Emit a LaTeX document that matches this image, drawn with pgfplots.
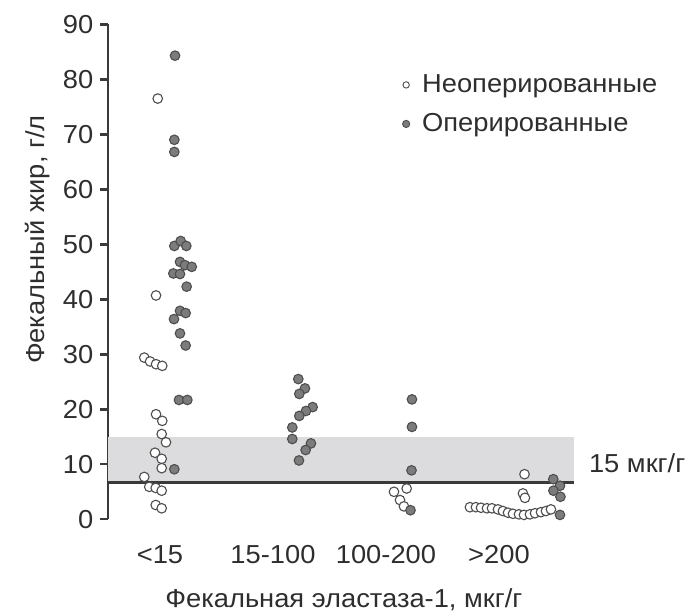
\documentclass[border=0pt]{standalone}
\usepackage{fontspec}
\setmainfont{Liberation Sans}[FakeStretch=1.05]
\usepackage{pgfplots}
\pgfplotsset{compat=1.18}
\definecolor{txt}{HTML}{2E2E2E}
\definecolor{axc}{HTML}{3A3A3A}
\definecolor{band}{HTML}{DCDCDE}
\definecolor{fillg}{HTML}{7C7C7C}
\definecolor{edgeg}{HTML}{4E4E4E}

\begin{document}
\begin{tikzpicture}
\begin{axis}[
    at={(0pt,0pt)}, anchor=south west,
    scale only axis,
    width=232.85pt, height=247.5pt,
    xmin=-0.4575, xmax=3.664,
    ymin=0, ymax=90,
    axis lines*=left,
    x axis line style={draw=none},
    y axis line style={line width=1.2pt, color=axc},
    xtick={0,1,2,3},
    xticklabels={{<15},{15-100},{100-200},{>200}},
    xtick style={draw=none},
    ytick={0,10,...,90},
    ytick style={line width=1.2pt, color=axc},
    tick align=outside,
    major tick length=4pt,
    /pgf/number format/assume math mode=true,
    tick label style={font=\fontsize{13}{15}\selectfont, text=txt},
    xticklabel style={anchor=base, yshift=-18pt},
    label style={font=\fontsize{13}{15}\selectfont, text=txt},
    xlabel={Фекальная эластаза-1, мкг/г},
    ylabel={Фекальный жир, г/л},
    xlabel style={at={(axis description cs:0.506,-0.163)}, anchor=center},
    ylabel style={at={(axis description cs:-0.151,0.565)}, anchor=center},
    clip=false,
    legend style={at={(axis description cs:0.631,0.838)}, anchor=west,
        draw=none, fill=none, inner sep=0pt, row sep=5pt,
        font=\fontsize{13}{15}\selectfont, text=txt},
    legend cell align=left,
    legend image code/.code={\draw[#1] plot coordinates {(0pt,0pt)};\path[draw=none,fill=none] (-1pt,0pt) rectangle (6pt,0.1pt);},
]
% normal range band and threshold line
\fill[band] (axis cs:-0.4575,6.7) rectangle (axis cs:3.664,15);
\draw[line width=1.4pt, axc] (axis cs:-0.4575,6.7) -- (axis cs:3.664,6.7);

\addlegendimage{only marks, mark=*, mark size=1.6pt, mark options={fill=white, draw=edgeg, line width=0.45pt}}
\addlegendentry{Неоперированные}
\addlegendimage{only marks, mark=*, mark size=1.8pt, mark options={fill=fillg, draw=edgeg, line width=0.45pt}}
\addlegendentry{Оперированные}

% non-operated
\addplot[only marks, mark=*, mark size=2.4pt, mark options={fill=white, draw=edgeg, line width=0.55pt}, forget plot] coordinates {
(-0.020,76.5) (-0.035,40.7) (-0.139,29.4) (-0.088,28.7) (-0.035,28.2) (0.020,27.9)
(-0.035,19.1) (0.020,17.9) (0.015,15.5) (0.053,14.0) (-0.044,12.1) (0.015,11.0)
(0.015,9.3) (-0.139,7.7) (-0.095,5.9) (-0.038,5.7) (0.015,5.2) (-0.038,2.6) (0.015,2.0)
(2.183,5.6) (2.071,5.0) (2.124,3.5) (2.159,2.35)
(3.226,8.2) (3.212,4.7) (3.230,3.9)
(2.743,2.2) (2.796,2.2) (2.841,2.1) (2.894,2.0) (2.938,2.0) (2.991,1.8) (3.035,1.5)
(3.080,1.2) (3.124,1.0) (3.177,0.9) (3.221,0.8) (3.274,0.9) (3.319,1.1) (3.372,1.3)
(3.416,1.5) (3.460,1.8)
};
% operated
\addplot[only marks, mark=*, mark size=2.4pt, mark options={fill=fillg, draw=edgeg, line width=0.55pt}, forget plot] coordinates {
(0.133,84.3) (0.127,69.0) (0.127,66.8) (0.127,49.7) (0.183,50.6) (0.233,49.7)
(0.177,46.8) (0.221,46.2) (0.281,45.9) (0.118,44.7) (0.177,44.6) (0.236,42.3)
(0.177,37.9) (0.227,37.5) (0.124,36.4) (0.177,33.8) (0.227,31.6) (0.168,21.7)
(0.242,21.7) (0.127,9.1)
(1.224,25.5) (1.283,23.8) (1.233,22.8) (1.351,20.4) (1.292,19.7) (1.233,18.8)
(1.171,16.7) (1.171,14.6) (1.336,13.8) (1.289,12.6) (1.230,10.7)
(2.230,21.8) (2.230,16.8) (2.226,8.9) (2.217,1.65)
(3.481,7.3) (3.540,6.1) (3.482,5.2) (3.544,4.1) (3.540,0.8)
};

\node[anchor=west, font=\fontsize{13}{15}\selectfont, text=txt] at (axis cs:3.664,10.2) [xshift=4pt] {15 мкг/г};
\end{axis}
\pgfresetboundingbox
\path[use as bounding box] (-54.15pt,-48.35pt) rectangle (291.85pt,259.65pt);
\end{tikzpicture}
\end{document}
